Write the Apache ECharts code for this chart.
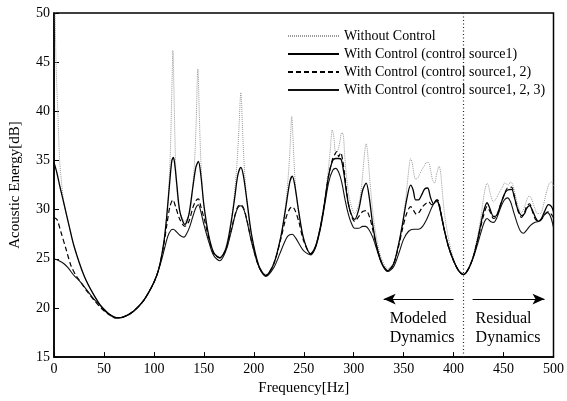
<!DOCTYPE html>
<html><head><meta charset="utf-8">
<script src="https://cdn.jsdelivr.net/npm/echarts@6/dist/echarts.min.js"></script>
<style>html,body{margin:0;padding:0;background:#fff}#c{width:567px;height:401px}</style>
</head><body><div id="c"></div>
<script>
const xTicks = [0,50,100,150,200,250,300,350,400,450,500];
const yTicks = [15,20,25,30,35,40,45,50];
const seriesNames = ['Without Control','With Control (control source1)','With Control (control source1, 2)','With Control (control source1, 2, 3)'];
const boundaryFreq = 410;

const withoutControl = [[0,58],[1,50.5],[2,45.2],[3,42],[4,39.5],[5,36.5],[6,34.5],[8,32.3],[10,30.6],[15,28.4],[20,26.3],[30,23.3],[40,21.3],[50,19.8],[60,19.1],[65,19.0],[70,19.1],[80,19.7],[90,20.8],[100,22.6],[105,24],[110,26.8],[113,29.5],[115,32.5],[116.5,36],[117.5,40],[118.5,44.5],[119,46.2],[119.5,45],[120.5,40],[121.5,35.5],[123,32],[126,29.8],[131,28.8],[136,29.8],[139,32.5],[141,35.5],[142.5,39.5],[143.5,43.5],[144,44.3],[144.5,43.5],[145.5,39.5],[147,35],[149,31.5],[152,28.6],[156,26.5],[160,25.6],[166,25.2],[172,26.2],[177,28.8],[180,31],[183,34.5],[185,38],[186.3,41],[187,41.9],[187.7,41],[189,37.5],[191,33.5],[194,30],[198,27.2],[205,24.3],[212,23.4],[220,24.5],[227,27.3],[231,29.8],[234,32.8],[236,35.7],[237.3,38.5],[238,39.5],[238.7,38.5],[240,35.5],[242,32],[245,29.5],[250,27],[257,25.6],[262,26.4],[267,28.5],[271,31],[274,33.5],[276.5,36],[278.5,38.1],[280,37.5],[282,35.8],[284,36],[286,36.8],[288,37.8],[289.5,37.7],[291,35.5],[293,33.2],[296,31],[301,29.6],[305,30.5],[308,32.5],[310,34.8],[311.5,36.3],[312.5,36.7],[313.5,36.2],[315,34.5],[317,32],[320,29],[324,26.5],[328,25],[334,24],[340,24.6],[345,26.5],[349,28.8],[352,31],[354,33],[356,34.8],[357,35.2],[358.5,34.8],[360,33.8],[362,33.1],[364,33.2],[366,33.6],[368,34],[371,34.5],[373,34.8],[375,34.8],[377,34],[379,33],[381,32.7],[383,33.6],[385.5,34.4],[387,33.8],[389,31.5],[391,29.5],[395,27],[400,25],[405,23.8],[410,23.4],[415,24.1],[420,25.5],[424,27.3],[427,29],[430,31.2],[432,32.3],[433.6,32.7],[435,32.4],[437,31.5],[440,30.8],[443,31.2],[446,31.8],[449,32.3],[451,32.7],[453,32.6],[455,32.5],[457,32.8],[459,32.6],[462,31.4],[465,30.2],[468,29.7],[471,30.3],[474,31.2],[476,31.4],[478,31.1],[481,30.2],[484,29.6],[487,29.6],[490,30.5],[493,31.8],[496,32.7],[498,32.8],[500,32.4]];

const controlSource1 = [[0,34.8],[3,33.7],[6,32.3],[10,30.6],[15,28.4],[20,26.3],[30,23.3],[40,21.3],[50,19.8],[60,19.1],[65,19.0],[70,19.1],[80,19.7],[90,20.8],[100,22.6],[105,24],[110,26.7],[113,29.5],[116,33],[118,35],[119.5,35.3],[121,34.5],[123,32.5],[126,29.8],[131,28.5],[135,29.5],[139,32.3],[142,34.3],[144.5,34.9],[147,33.5],[150,30.5],[155,27.3],[160,25.6],[166,25.1],[172,26],[177,28.5],[181,31.3],[184,33.5],[187,34.3],[189.5,33.5],[193,31],[198,27.3],[205,24.3],[212,23.3],[220,24.5],[227,27.2],[232,30.2],[236,32.8],[238.5,33.4],[241,32.5],[245,29.8],[250,27],[257,25.5],[262,26.3],[267,28.4],[271,30.8],[275,33.5],[279,35],[282,35.2],[285,35.2],[287.5,35.1],[290,33.8],[293,31.6],[296,30],[301,29],[305,30],[309,32],[312.5,32.7],[315.5,31.3],[319,28.5],[323,26.3],[328,24.6],[334,23.8],[340,24.5],[345,26.5],[349,28.6],[353,31],[357,32.5],[359.5,32],[362,31],[365,31],[368,31.5],[371,32.1],[374,32.2],[377,31.2],[380,30.6],[383,31],[385,30.6],[388,29.3],[391,27.8],[395,26.2],[400,24.8],[405,23.8],[410,23.4],[415,24],[420,25.3],[424,26.9],[427,28.4],[430,29.8],[433.5,30.7],[436,30.2],[440,29.3],[443,29.4],[447,30.5],[451,31.6],[454,32],[458,32.05],[461,31.2],[464,30.1],[468,29.4],[471,29.6],[473,30.1],[476,30.4],[479,29.9],[482,29.2],[485,28.8],[488,29.1],[491,29.8],[495,30.5],[498,30.3],[500,29.8]];

const controlSource12 = [[0,29.2],[3,29],[7,27.7],[12,26],[17,24.3],[22,23.3],[27,22.6],[33,21.7],[40,20.8],[50,19.7],[60,19.05],[65,19.0],[70,19.1],[80,19.7],[90,20.8],[100,22.6],[105,24],[110,26.5],[113,28.5],[116,30.3],[119,31],[122,30.2],[126,29],[131,28.3],[135,28.8],[139,30.2],[142,30.9],[144.5,31.1],[147,30.3],[150,29.2],[155,27.1],[160,25.5],[166,25.1],[172,25.9],[177,27.8],[181,29.4],[184,30.3],[187,30.5],[190,30.1],[193,29],[198,26.7],[205,24.2],[212,23.3],[220,24.5],[227,27],[232,29.1],[236,30.1],[238.5,30.3],[241,30],[245,28.8],[250,26.8],[257,25.5],[262,26.3],[267,28.4],[271,30.8],[275,33.5],[279,35.2],[281,35.6],[283,35.9],[285,35.4],[287,35.8],[289,35],[291,33.5],[293,31.8],[296,30],[301,28.8],[305,29.3],[309,29.8],[312.5,29.9],[316,29.2],[319,28],[323,26.2],[328,24.6],[334,23.8],[340,24.5],[345,26.3],[349,28.1],[353,29.6],[357,30.3],[360,29.9],[363,29.5],[366,29.8],[369,30.3],[372,30.6],[375,30.8],[378,30.5],[381,30.8],[384,31],[386,30.4],[388,29.3],[391,27.8],[395,26.2],[400,24.8],[405,23.8],[410,23.4],[415,24],[420,25.3],[424,26.9],[427,28.2],[430,29.4],[433.5,30.3],[436,29.9],[440,29.1],[443,29.3],[447,30.5],[451,31.6],[454,32.2],[456,32.2],[458,32.3],[461,31.3],[464,30],[468,29.2],[471,29.7],[473,30.3],[476,30.6],[479,29.8],[482,29],[485,28.8],[488,29],[491,29.5],[495,29.8],[498,29.5],[500,29.2]];

const controlSource123 = [[0,25],[5,24.8],[10,24.5],[14,24.1],[20,23.3],[25,22.8],[30,22.2],[40,20.9],[47,20.2],[55,19.4],[62,18.95],[68,19.05],[75,19.3],[80,19.7],[90,20.8],[100,22.6],[105,24],[108,25],[111,26.2],[114,27.3],[117,27.9],[119.5,28],[122,27.8],[126,27.4],[130,27.2],[133,27.6],[136,28.3],[139,29.3],[142,30.2],[144.5,30.5],[147,29.8],[150,28.5],[155,26.7],[160,25.3],[166,24.8],[172,25.8],[177,27.6],[181,29.3],[184,30.2],[187,30.4],[190,30],[193,28.9],[198,26.6],[205,24.2],[212,23.2],[220,24.1],[226,25.5],[230,26.5],[234,27.3],[238.5,27.5],[242,27.1],[246,26.4],[250,25.8],[257,25.4],[262,26.2],[267,28.2],[271,30.5],[275,32.8],[279,34],[282,34.2],[285,33.8],[288,32.8],[291,31.2],[294,29.8],[297,28.8],[301,28.1],[305,28.1],[309,28.3],[312,28.3],[315,28],[319,27.2],[323,26],[328,24.5],[334,23.7],[340,24.2],[345,25.5],[350,27],[355,27.8],[360,28],[365,28],[369,28.3],[373,29],[376,29.7],[379,30.4],[382,30.8],[384,30.8],[386,30.2],[388,29.2],[391,27.8],[395,26.2],[400,24.8],[405,23.8],[410,23.4],[415,24],[420,25.2],[424,26.5],[428,27.9],[431,28.8],[433.5,29.1],[437,28.8],[440,28.7],[443,29.1],[447,30.2],[451,31],[454,31.2],[457,30.8],[460,29.8],[464,28.5],[467,27.8],[470,27.6],[473,27.9],[477,28.4],[481,28.7],[485,28.8],[489,29.2],[492,29.6],[494,29.7],[497,29.3],[500,28.2]];

const modeledArrow = [[400,20.9],[330,20.9]];
const residualArrow = [[419,20.9],[491,20.9]];
const modeledLabel = [336, 17.9];
const residualLabel = [422, 17.9];

const FONT = '"Liberation Serif", "DejaVu Serif", serif';
const chart = echarts.init(document.getElementById('c'), null, {renderer:'canvas'});

const axisCommon = {
  axisLine:{show:true, lineStyle:{color:'#000', width:1.5}},
  axisTick:{show:true, inside:true, length:5, lineStyle:{color:'#000', width:1}},
  splitLine:{show:false},
  minorTick:{show:false},
};

chart.setOption({
  animation:false,
  backgroundColor:'#fff',
  grid:{left:53, right:12, top:13, bottom:43, show:true, borderColor:'#000', borderWidth:1.5},
  legend:{
    show:true, orient:'vertical', left:282, top:23, itemWidth:51, itemHeight:10, itemGap:2,
    itemStyle:{opacity:0, borderWidth:0},
    textStyle:{fontFamily:FONT, fontSize:14, color:'#000', lineHeight:16},
    data:seriesNames
  },
  xAxis:Object.assign({
    type:'value', min:xTicks[0], max:xTicks[xTicks.length-1], interval:50,
    name:'Frequency[Hz]', nameLocation:'middle', nameGap:21,
    nameTextStyle:{fontFamily:FONT, fontSize:15, color:'#000'},
    axisLabel:{fontFamily:FONT, fontSize:14, color:'#000', margin:5}
  }, axisCommon),
  yAxis:Object.assign({
    type:'value', min:yTicks[0], max:yTicks[yTicks.length-1], interval:5,
    name:'Acoustic Energy[dB]', nameLocation:'middle', nameGap:31,
    nameTextStyle:{fontFamily:FONT, fontSize:15, color:'#000'},
    axisLabel:{fontFamily:FONT, fontSize:14, color:'#000', margin:4}
  }, axisCommon),
  series:[
    {name:seriesNames[0], type:'line', data:withoutControl, showSymbol:false, symbol:'none', smooth:0.3, z:1,
     lineStyle:{color:'#999', width:1, type:[1,1]}, itemStyle:{color:'#999'},
     markLine:{silent:true, symbol:'none', label:{show:false},
       lineStyle:{color:'#222', width:1.2, type:[1,2.5]},
       data:[{xAxis:boundaryFreq}]}},
    {name:seriesNames[1], type:'line', data:controlSource1, showSymbol:false, symbol:'none', smooth:0.3, z:3,
     lineStyle:{color:'#000', width:1.3}, itemStyle:{color:'#000'},
     markLine:{silent:true, label:{show:false}, symbolSize:[8,12],
       lineStyle:{color:'#000', width:1.2, type:'solid'},
       data:[
         [{coord:modeledArrow[0], symbol:'none'},{coord:modeledArrow[1], symbol:'arrow'}],
         [{coord:residualArrow[0], symbol:'none'},{coord:residualArrow[1], symbol:'arrow'}]
       ]},
     markPoint:{silent:true, symbol:'circle', symbolSize:0,
       label:{show:true, position:'right', distance:0, fontFamily:FONT, fontSize:16, color:'#000', lineHeight:19, align:'left', verticalAlign:'middle'},
       data:[
         {coord:modeledLabel, label:{formatter:'Modeled\nDynamics'}},
         {coord:residualLabel, label:{formatter:'Residual\nDynamics'}}
       ]}},
    {name:seriesNames[2], type:'line', data:controlSource12, showSymbol:false, symbol:'none', smooth:0.3, z:2,
     lineStyle:{color:'#000', width:1.2, type:[5,3]}, itemStyle:{color:'#000'}},
    {name:seriesNames[3], type:'line', data:controlSource123, showSymbol:false, symbol:'none', smooth:0.3, z:2,
     lineStyle:{color:'#111', width:1.1}, itemStyle:{color:'#111'}}
  ]
});
</script></body></html>
